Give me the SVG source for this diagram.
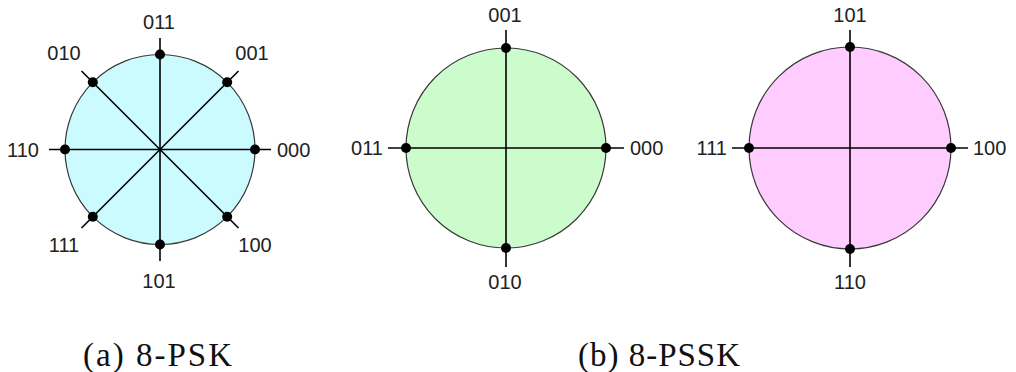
<svg xmlns="http://www.w3.org/2000/svg" width="1016" height="372" viewBox="0 0 1016 372">
<style>
.disk{stroke:#3a3a3a;stroke-width:1.2}
.ax{stroke:#000;stroke-width:1.6;fill:none}
.pt{fill:#000}
.lbl{font-family:"Liberation Sans",Arial,sans-serif;font-size:20px;fill:#222}
.cap{font-family:"Liberation Serif","Times New Roman",serif;font-size:33px;fill:#111}
</style>
<rect width="1016" height="372" fill="#fff"/>
<g id="psk8">
<circle class="disk" cx="160" cy="149.5" r="95" fill="#ccfbff"/>
<g id="psk8-axes" class="ax">
<line x1="160" y1="38" x2="160" y2="261"/>
<line x1="49" y1="149.5" x2="271" y2="149.5"/>
<line x1="81.5" y1="71" x2="238.5" y2="228"/>
<line x1="238.5" y1="71" x2="81.5" y2="228"/>
</g>
<g class="pt">
<circle cx="160" cy="54.5" r="5"/>
<circle cx="227.2" cy="82.3" r="5"/>
<circle cx="255" cy="149.5" r="5"/>
<circle cx="227.2" cy="216.7" r="5"/>
<circle cx="160" cy="244.5" r="5"/>
<circle cx="92.8" cy="216.7" r="5"/>
<circle cx="65" cy="149.5" r="5"/>
<circle cx="92.8" cy="82.3" r="5"/>
</g>
<text class="lbl" x="159" y="29" text-anchor="middle">011</text>
<text class="lbl" x="64" y="60" text-anchor="middle">010</text>
<text class="lbl" x="252" y="60" text-anchor="middle">001</text>
<text class="lbl" x="39" y="157" text-anchor="end">110</text>
<text class="lbl" x="277" y="157">000</text>
<text class="lbl" x="64" y="252" text-anchor="middle">111</text>
<text class="lbl" x="255" y="252" text-anchor="middle">100</text>
<text class="lbl" x="159" y="288" text-anchor="middle">101</text>
</g>
<g id="pssk-a">
<circle class="disk" cx="506" cy="148" r="100" fill="#ccfccc"/>
<g class="ax">
<line x1="506" y1="30" x2="506" y2="267"/>
<line x1="388" y1="148" x2="624" y2="148"/>
</g>
<g class="pt">
<circle cx="506" cy="48" r="5"/>
<circle cx="606" cy="148" r="5"/>
<circle cx="506" cy="248" r="5"/>
<circle cx="406" cy="148" r="5"/>
</g>
<text class="lbl" x="505" y="22" text-anchor="middle">001</text>
<text class="lbl" x="383" y="155" text-anchor="end">011</text>
<text class="lbl" x="630" y="155">000</text>
<text class="lbl" x="505" y="289" text-anchor="middle">010</text>
</g>
<g id="pssk-b">
<circle class="disk" cx="850" cy="148" r="101" fill="#ffccff"/>
<g class="ax">
<line x1="850" y1="30" x2="850" y2="267"/>
<line x1="732" y1="148" x2="968" y2="148"/>
</g>
<g class="pt">
<circle cx="850" cy="47" r="5"/>
<circle cx="951" cy="148" r="5"/>
<circle cx="850" cy="249" r="5"/>
<circle cx="749" cy="148" r="5"/>
</g>
<text class="lbl" x="850" y="22" text-anchor="middle">101</text>
<text class="lbl" x="727" y="155" text-anchor="end">111</text>
<text class="lbl" x="973" y="155">100</text>
<text class="lbl" x="850" y="289" text-anchor="middle">110</text>
</g>
<g id="captions">
<text class="cap" x="83" y="366" textLength="149" lengthAdjust="spacing">(a) 8-PSK</text>
<text class="cap" x="578" y="366" textLength="162" lengthAdjust="spacing">(b) 8-PSSK</text>
</g>
</svg>
